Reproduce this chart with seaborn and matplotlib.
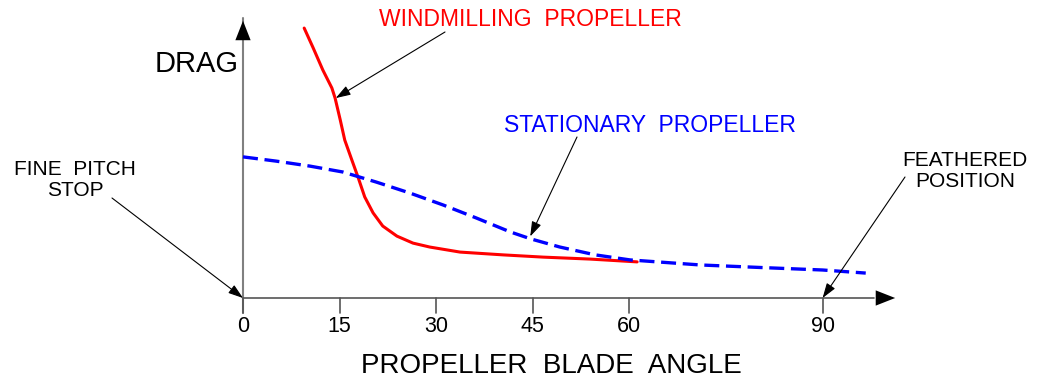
import numpy as np
import pandas as pd
import matplotlib
matplotlib.use('Agg')
import matplotlib.pyplot as plt
import seaborn as sns

sns.set_style('white')
plt.rcParams['font.family'] = ['Liberation Sans', 'DejaVu Sans']

# blade angle (deg) vs drag (arbitrary units, 0..100)
wind_angle = [9.5, 10.9, 12.4, 13.8, 14.3, 15.1, 15.8, 16.9, 17.9, 18.9, 20.2, 21.7,
              23.9, 26.4, 29.0, 33.7, 40.4, 46.6, 53.9, 61.2]
wind_drag = [96.4, 89.3, 81.4, 75.0, 71.4, 63.6, 56.4, 49.3, 42.9, 36.1, 30.4, 25.7,
             22.1, 19.6, 18.2, 16.4, 15.4, 14.6, 13.9, 12.9]

stat_angle = [0, 5.1, 10.4, 15.5, 20.7, 25.9, 31.1, 36.2, 41.5, 44.7, 49.2, 54.7,
              60.1, 71.0, 80.3, 90.0, 96.7]
stat_drag = [50.4, 48.9, 47.1, 45.0, 41.4, 37.5, 33.2, 28.6, 23.6, 21.1, 18.2, 15.4,
             13.6, 11.8, 10.9, 10.0, 8.9]

tick_angles = [0, 15, 30, 45, 60, 90]

wind = pd.DataFrame({'angle': wind_angle, 'drag': wind_drag})
stat = pd.DataFrame({'angle': stat_angle, 'drag': stat_drag})

W, H = 1043, 379
fig = plt.figure(figsize=(W / 100, H / 100), dpi=100)
ax = fig.add_axes([0, 0, 1, 1])
ax.axis('off')

# pixel scale: 6.44 px per degree, 2.8 px per drag unit, origin at px (243, 298)
sx, sy = 6.44, 2.8
ax.set_xlim(-243 / sx, (W - 243) / sx)
ax.set_ylim(-(H - 298) / sy, 298 / sy)

sns.lineplot(data=wind, x='angle', y='drag', ax=ax, color='#ff0000', lw=2.2,
             sort=False, estimator=None)
line = sns.lineplot(data=stat, x='angle', y='drag', ax=ax, color='#0000ff', lw=2.4,
                    sort=False, estimator=None)
ax.lines[-1].set_linestyle((0, (4.5, 2)))
for ln in ax.lines:
    ln.set_solid_joinstyle('round')
    ln.set_dash_joinstyle('round')

# axes with arrows
ax.plot([0, 0], [0, 100], color='#808080', lw=1.5, zorder=1)
ax.plot([0, 0], [0, -15 / sy], color='#808080', lw=1.5, zorder=1)
ax.plot([0, 98], [0, 0], color='#555555', lw=1.2, zorder=1)
ax.annotate('', xy=(0, 100), xytext=(0, 90),
            arrowprops=dict(arrowstyle='-|>,head_length=1.4,head_width=0.55', color='black', lw=0))
ax.annotate('', xy=(101.7, 0), xytext=(92, 0),
            arrowprops=dict(arrowstyle='-|>,head_length=1.4,head_width=0.55', color='black', lw=0))

for a in tick_angles:
    ax.plot([a, a], [0, -15 / sy], color='#555555', lw=1.2, zorder=1)
    ax.text(a, -28 / sy, str(a), ha='center', va='center', fontsize=15.5, color='black')

ax.text((197 - 243) / sx, (298 - 64) / sy, 'DRAG', ha='center', va='center',
        fontsize=21, color='black')
ax.text((551 - 243) / sx, -(366 - 298) / sy, 'PROPELLER  BLADE  ANGLE', ha='center', va='center',
        fontsize=20, color='black')

arrow = dict(arrowstyle='-|>,head_length=0.9,head_width=0.3', color='black', lw=0.8,
             shrinkA=0, shrinkB=0)

ax.text((530 - 243) / sx, (298 - 19) / sy, 'WINDMILLING  PROPELLER', ha='center', va='center',
        fontsize=16.5, color='#ff0000')
ax.annotate('', xy=(14.4, 71.4), xytext=((445 - 243) / sx, (298 - 32) / sy), arrowprops=arrow)

ax.text((650 - 243) / sx, (298 - 125) / sy, 'STATIONARY  PROPELLER', ha='center', va='center',
        fontsize=16.5, color='#0000ff')
ax.annotate('', xy=(44.6, 22.0), xytext=((577 - 243) / sx, (298 - 137) / sy), arrowprops=arrow)

ax.text((75 - 243) / sx, (298 - 180) / sy, 'FINE  PITCH\nSTOP', ha='center', va='center',
        fontsize=15, color='black', linespacing=1.1)
ax.annotate('', xy=(0, 0), xytext=((112 - 243) / sx, (298 - 198) / sy), arrowprops=arrow)

ax.text((965 - 243) / sx, (298 - 171) / sy, 'FEATHERED\nPOSITION', ha='center', va='center',
        fontsize=15, color='black', linespacing=1.1)
ax.annotate('', xy=(90, 0), xytext=((905 - 243) / sx, (298 - 177) / sy), arrowprops=arrow)

fig.savefig('out.png', dpi=100)
